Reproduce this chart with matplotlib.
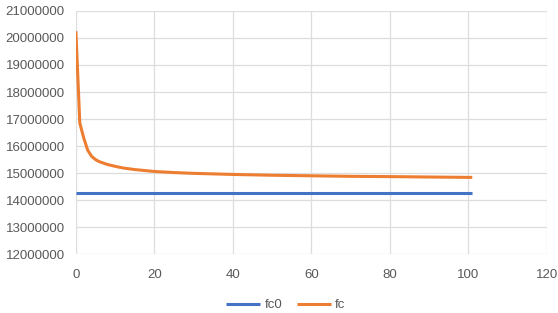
import matplotlib
matplotlib.use("Agg")
import matplotlib.pyplot as plt
from matplotlib.ticker import FuncFormatter

fc_x = [0, 1, 2, 3, 4, 5, 6, 8, 10, 12, 15, 20, 25, 30, 40, 50, 60, 70, 80, 90, 101]
fc = [20250000, 16850000, 16300000, 15850000, 15620000, 15500000, 15420000, 15320000,
      15250000, 15190000, 15130000, 15060000, 15020000, 14990000, 14950000, 14920000,
      14900000, 14880000, 14870000, 14855000, 14840000]
fc0_x = [0, 101]
fc0 = [14250000, 14250000]

x_ticks = [0, 20, 40, 60, 80, 100, 120]
y_ticks = [12000000, 13000000, 14000000, 15000000, 16000000, 17000000, 18000000, 19000000, 20000000, 21000000]

plt.rcParams['font.family'] = ['Liberation Sans', 'DejaVu Sans']
fig = plt.figure(figsize=(5.58, 3.13), dpi=100)
ax = fig.add_axes([0.136, 0.188, 0.844, 0.777])

ax.plot(fc0_x, fc0, color='#4472C4', lw=2.2, label='fc0', solid_capstyle='butt')
ax.plot(fc_x, fc, color='#ED7D31', lw=2.2, label='fc', solid_capstyle='butt')

ax.set_xlim(0, 120)
ax.set_ylim(12000000, 21000000)
ax.set_xticks(x_ticks)
ax.set_yticks(y_ticks)
ax.yaxis.set_major_formatter(FuncFormatter(lambda v, p: f"{int(v)}"))
ax.grid(True, color='#DDDDDD', lw=0.9)
ax.set_axisbelow(True)
for s in ax.spines.values():
    s.set_visible(False)
ax.tick_params(length=0, colors='#595959', labelsize=9.5)
ax.tick_params(axis='x', pad=11)
ax.tick_params(axis='y', pad=8)

fig.legend(loc='center', bbox_to_anchor=(0.512, 0.025), ncol=2, frameon=False,
           fontsize=9.5, labelcolor='#595959', handlelength=2.6, handletextpad=0.3,
           columnspacing=1.1)

fig.savefig('out.png', dpi=100)
